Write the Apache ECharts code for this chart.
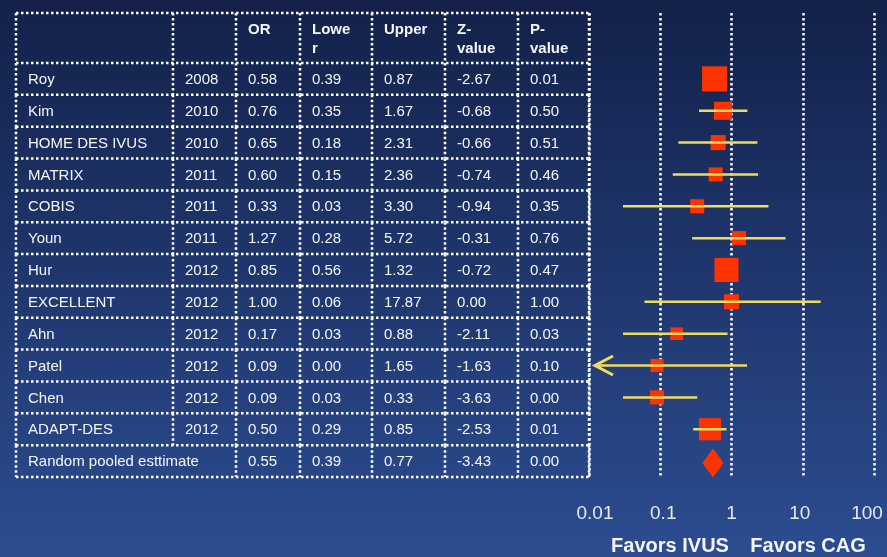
<!DOCTYPE html>
<html>
<head>
<meta charset="utf-8">
<script src="https://cdn.jsdelivr.net/npm/echarts@6/dist/echarts.min.js"></script>
<style>
html,body{margin:0;padding:0;}
#chart{width:887px;height:557px;}
</style>
</head>
<body>
<div id="chart"></div>
<script>
// 数据
const studies = ["Roy","Kim","HOME DES IVUS","MATRIX","COBIS","Youn","Hur","EXCELLENT","Ahn","Patel","Chen","ADAPT-DES"];
const years   = [2008,2010,2010,2011,2011,2011,2012,2012,2012,2012,2012,2012];
const oddsRatio = [0.58,0.76,0.65,0.60,0.33,1.27,0.85,1.00,0.17,0.09,0.09,0.50];
const lower   = [0.39,0.35,0.18,0.15,0.03,0.28,0.56,0.06,0.03,0.00,0.03,0.29];
const upper   = [0.87,1.67,2.31,2.36,3.30,5.72,1.32,17.87,0.88,1.65,0.33,0.85];
const zValue  = [-2.67,-0.68,-0.66,-0.74,-0.94,-0.31,-0.72,0.00,-2.11,-1.63,-3.63,-2.53];
const pValue  = [0.01,0.50,0.51,0.46,0.35,0.76,0.47,1.00,0.03,0.10,0.00,0.01];
// 权重(%)，按方块面积估读
const weights = [17.5,9.1,6.3,5.5,5.5,5.5,16.1,6.3,4.4,4.7,5.5,13.6];
const pooledLabel = "Random pooled esttimate";
const pooled = [0.55,0.39,0.77,-3.43,0.00]; // OR, lower, upper, Z, P
const headers = ["","","OR","Lowe\nr","Upper","Z-\nvalue","P-\nvalue"];
const xTicks = [0.01,0.1,1,10,100];
const sideLabels = ["Favors IVUS","Favors CAG"];

const FONT = '"Liberation Sans", Arial, sans-serif';
const TXT = "#f4f6fa";
const HEAD_H = 1.57;          // 表头高度（行单位）
const N = studies.length;     // 最后一行是合并估计
const colEdges = [0,157,220,284,356,429,502,573];
const dotted = { stroke:"#ffffff", lineWidth:2.5, lineDash:[2.5,2.5] };
const boxK = 6;
const fx = v => v.toFixed(2);
// 刻度文字的微调（左右留白）
const labelPad = [[0,0,0,12],[0,0,0,6],[0,0,0,0],[0,6,0,0],[0,14,0,0]];

const chart = echarts.init(document.getElementById("chart"));

// 表格行
function tableRow(params, api) {
  const r = api.value(1);
  const y0 = api.coord([0, r < 0 ? -HEAD_H : r])[1];
  const y1 = api.coord([0, r < 0 ? 0 : r + 1])[1];
  const xs = colEdges.map(e => api.coord([e, 0])[0]);
  let cells, skip = [];
  if (r < 0) cells = headers;
  else if (r < N) cells = [studies[r], String(years[r]), fx(oddsRatio[r]), fx(lower[r]), fx(upper[r]), fx(zValue[r]), fx(pValue[r])];
  else { cells = [pooledLabel, "", fx(pooled[0]), fx(pooled[1]), fx(pooled[2]), fx(pooled[3]), fx(pooled[4])]; skip = [1]; }
  const ch = [];
  ch.push({ type:"line", shape:{ x1:xs[0], y1:y0, x2:xs[xs.length-1], y2:y0 }, style:dotted });
  if (r === N) ch.push({ type:"line", shape:{ x1:xs[0], y1:y1, x2:xs[xs.length-1], y2:y1 }, style:dotted });
  xs.forEach((x,k) => {
    if (skip.includes(k)) return;
    ch.push({ type:"line", shape:{ x1:x, y1:y0, x2:x, y2:y1 }, style:dotted });
  });
  cells.forEach((t,k) => {
    if (!t) return;
    ch.push({ type:"text", style:{
      text:t, x:xs[k]+12, y: r < 0 ? y0+7.5 : (y0+y1)/2 + 1,
      verticalAlign: r < 0 ? "top" : "middle", align:"left",
      fill:TXT, fontFamily:FONT, fontSize:15, fontWeight: r < 0 ? "bold" : "normal", lineHeight:19
    }});
  });
  return { type:"group", children:ch };
}

// 置信区间
function ciItem(params, api) {
  const lo = api.value(0), hi = api.value(1), yc = api.value(2), sz = api.value(3), arrow = api.value(4);
  const p0 = api.coord([lo, yc]), p1 = api.coord([hi, yc]);
  let x0 = p0[0];
  if (arrow) x0 += 6;
  if (!arrow && p1[0] - p0[0] <= sz + 3) return null;
  const st = { stroke:"#f0dc5c", lineWidth:2.5 };
  const ch = [{ type:"line", shape:{ x1:x0, y1:p0[1], x2:p1[0], y2:p1[1] }, style:st }];
  if (arrow) {
    ch.push({ type:"polyline", shape:{ points:[[x0+18,p0[1]-9.5],[x0,p0[1]],[x0+18,p0[1]+9.5]] }, style:{ stroke:"#f0dc5c", lineWidth:3, fill:null } });
  }
  return { type:"group", children:ch };
}

function diamondItem(params, api) {
  const lo = api.coord([api.value(0), api.value(2)]);
  const hi = api.coord([api.value(1), api.value(2)]);
  const c  = api.coord([api.value(3), api.value(2)]);
  const h = 14.5;
  return { type:"polygon", shape:{ points:[[lo[0],c[1]+2],[c[0],c[1]-h+2],[hi[0],c[1]+2],[c[0],c[1]+h+2]] }, style:{ fill:"#ff3300" } };
}

const yAx = gi => ({ type:"value", gridIndex:gi, min:-HEAD_H, max:N+1, inverse:true, show:false });

const tableData = [[0,-1]].concat(studies.map((s,i)=>[0,i]), [[0,N]]);
const xMin = xTicks[0];
const ciData = studies.map((s,i)=>[Math.max(lower[i], xMin), upper[i], i+0.5, Math.sqrt(weights[i])*boxK, lower[i] <= 0 ? 1 : 0]);

const rich = {};
xTicks.forEach((t,k) => { rich["t"+k] = { color:"#e6e9f0", fontSize:19, fontFamily:FONT, padding:labelPad[k] }; });

chart.setOption({
  backgroundColor:{ type:"linear", x:0, y:0, x2:0, y2:1, colorStops:[{offset:0,color:"#13214a"},{offset:1,color:"#2c4d91"}] },
  animation:false,
  grid:[
    { left:16, width:573, top:13, bottom:80, outerBoundsMode:"none" },
    { left:589, right:13, top:13, bottom:80, outerBoundsMode:"none" }
  ],
  xAxis:[
    { type:"value", gridIndex:0, min:0, max:573, show:false },
    { type:"log", gridIndex:1, logBase:10, min:xTicks[0], max:xTicks[xTicks.length-1],
      axisLine:{show:false}, axisTick:{show:false},
      axisLabel:{ color:"#e6e9f0", fontSize:19, fontFamily:FONT, margin:27, rich:rich,
        formatter: v => {
          const k = xTicks.findIndex(t => Math.abs(Math.log10(t)-Math.log10(v))<1e-6);
          return k < 0 ? "" : "{t"+k+"|"+xTicks[k]+"}";
        } },
      splitLine:{ show:true, lineStyle:{ color:"#ffffff", width:2.5, type:[2.5,2.5] } }
    }
  ],
  yAxis:[ yAx(0), yAx(1) ],
  graphic:[
    { type:"text", style:{ text:sideLabels[0], x:670, y:546, align:"center", verticalAlign:"middle", fill:"#f2f4f8", fontFamily:FONT, fontSize:20, fontWeight:"bold" } },
    { type:"text", style:{ text:sideLabels[1], x:808, y:546, align:"center", verticalAlign:"middle", fill:"#f2f4f8", fontFamily:FONT, fontSize:20, fontWeight:"bold" } }
  ],
  series:[
    { type:"custom", xAxisIndex:0, yAxisIndex:0, renderItem:tableRow, data:tableData, encode:{x:0,y:1}, silent:true },
    { type:"scatter", xAxisIndex:1, yAxisIndex:1, symbol:"rect", z:2,
      itemStyle:{ color:"#ff3300", opacity:1 },
      data: studies.map((s,i)=>({ value:[oddsRatio[i], i+0.5], symbolSize: Math.sqrt(weights[i])*boxK })) },
    { type:"custom", xAxisIndex:1, yAxisIndex:1, z:3, renderItem:ciItem, data:ciData, encode:{x:[0,1], y:2} },
    { type:"custom", xAxisIndex:1, yAxisIndex:1, z:3, renderItem:diamondItem, data:[[pooled[1], pooled[2], N+0.5, pooled[0]]], encode:{x:[0,1], y:2} }
  ]
});
</script>
</body>
</html>
